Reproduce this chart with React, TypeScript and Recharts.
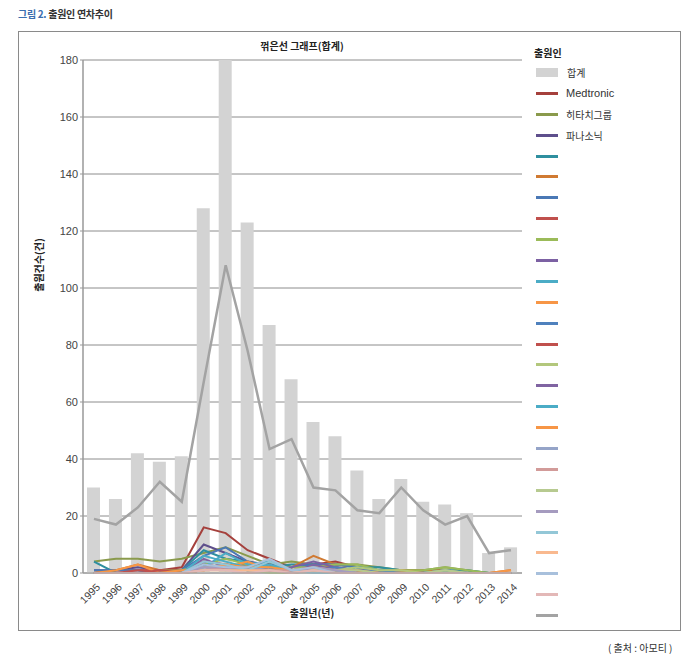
import React from 'react';
import { ComposedChart, Bar, Line, XAxis, YAxis, CartesianGrid } from 'recharts';

const years = ['1995','1996','1997','1998','1999','2000','2001','2002','2003','2004','2005','2006','2007','2008','2009','2010','2011','2012','2013','2014'];
const totals = [30,26,42,39,41,128,180,123,87,68,53,48,36,26,33,25,24,21,7,9];
const yTicks = [0,20,40,60,80,100,120,140,160,180];

const medtronic = [0,1,1,1,2,16,14,8,5,2,3,4,2,1,1,1,1,0,0,0];
const hitachi = [4,5,5,4,5,7,9,6,3,4,3,3,3,2,1,1,2,1,0,0];
const panasonic = [1,1,2,1,1,10,7,4,3,2,3,2,1,1,0,1,1,0,0,0];
const s04 = [4,0,0,1,1,8,5,4,2,3,3,3,2,2,1,1,1,1,0,0];
const s05 = [0,1,3,1,1,3,2,3,2,2,6,3,2,1,1,1,1,0,0,1];
const s06 = [1,1,1,0,1,6,9,4,2,2,3,3,2,1,1,0,1,0,0,0];
const s07 = [0,0,1,1,0,4,3,2,1,1,2,2,1,1,0,0,0,0,0,0];
const s08 = [0,0,0,0,1,3,5,3,2,2,2,3,3,1,1,1,2,1,0,0];
const s09 = [0,0,0,0,0,4,3,2,1,2,4,2,1,0,0,0,0,0,0,0];
const s10 = [0,0,0,0,0,2,7,3,4,1,2,1,2,1,0,0,1,0,0,0];
const s11 = [0,1,3,0,0,1,2,4,1,1,1,1,1,0,1,0,0,0,0,0];
const s12 = [0,0,0,0,0,3,2,1,2,0,1,2,1,1,0,0,0,0,0,0];
const s13 = [0,0,0,1,0,1,2,1,1,1,1,1,0,0,0,0,0,0,0,0];
const s14 = [0,0,0,0,0,2,3,1,1,1,2,1,2,1,1,0,1,0,0,0];
const s15 = [0,0,0,0,0,5,2,2,1,0,3,1,0,0,0,0,0,0,0,0];
const s16 = [0,0,0,0,0,6,4,2,3,1,1,1,0,0,0,0,0,0,0,0];
const s17 = [0,0,0,0,1,1,3,2,2,1,2,1,1,0,0,0,0,0,0,1];
const s18 = [0,0,0,0,0,2,1,2,1,0,2,1,0,0,0,0,0,0,0,0];
const s19 = [0,0,0,0,0,1,2,1,1,1,1,0,0,0,0,0,0,0,0,0];
const s20 = [0,0,0,0,0,1,1,1,0,0,1,1,1,0,0,0,1,0,0,0];
const s21 = [0,0,0,0,0,2,2,1,1,0,2,1,0,0,0,0,0,0,0,0];
const s22 = [0,0,0,0,0,4,3,1,4,1,0,0,0,0,0,0,0,0,0,0];
const s23 = [0,0,0,0,0,1,1,1,1,0,1,0,0,0,0,0,0,0,0,0];
const s24 = [0,0,0,0,0,3,2,2,5,1,2,0,0,0,0,0,0,0,0,0];
const s25 = [0,0,0,0,0,1,1,0,1,0,1,0,0,0,0,0,0,0,0,0];
const grayLine = [19,17,23,32,25,67,108,78,43.5,47,30,29,22,21,30,22,17,20,7,8];

const seriesValues = [medtronic,hitachi,panasonic,s04,s05,s06,s07,s08,s09,s10,s11,s12,s13,s14,s15,s16,s17,s18,s19,s20,s21,s22,s23,s24,s25,grayLine];
const seriesNames = ['Medtronic','히타치그룹','파나소닉','','','','','','','','','','','','','','','','','','','','','','',''];
const seriesColors = [
  '#a5403c','#8a9a4c','#5e4f8c','#2f8f9f','#d07a32','#4a78b5','#c0504d','#9bbb59',
  '#7c61a3','#4bacc6','#f79646','#4f81bd','#c0504d','#b3c77c','#8064a2','#4bacc6',
  '#f79646','#95a4c8','#d29b99','#b7ca90','#a59bbf','#93c7d7','#f9b98f','#a8c0dc',
  '#e3b8b7','#a3a3a3'
];
const totalName = '합계';
const totalColor = '#d3d3d3';

const data = years.map((y, i) => {
  const row: Record<string, number | string> = { year: y, total: totals[i] };
  seriesValues.forEach((arr, k) => { row['s' + k] = arr[i]; });
  return row;
});

const FONT = '"Liberation Sans", Arial, "Noto Sans CJK KR", sans-serif';
const KFONT = '"Noto Sans CJK KR", "Liberation Sans", sans-serif';

const XTick = (props: any) => {
  const { x, y, payload } = props;
  return (
    <text x={x + 4} y={y + 4} transform={`rotate(-45 ${x + 4} ${y + 4})`} textAnchor="end" dominantBaseline="central" fontSize={10.5} fill="#444" fontFamily={FONT}>
      {payload.value}
    </text>
  );
};

export default function App() {
  return (
    <div style={{ position: 'absolute', left: 0, top: 0, width: 700, height: 662, background: '#fff', fontFamily: KFONT }}>
      <div style={{ position: 'absolute', left: 18, top: 6, fontSize: 10, fontWeight: 700, color: '#333', letterSpacing: -0.3 }}>
        <span style={{ color: '#3a6eaf' }}>그림 2.</span> 출원인 연차추이
      </div>
      <div style={{ position: 'absolute', left: 18, top: 31, width: 663, height: 600, border: '1.5px solid #8a8a8a', boxSizing: 'border-box' }} />
      <div style={{ position: 'absolute', left: 608, top: 640, fontSize: 10, color: '#333' }}>( 출처 : 아모티 )</div>

      <div style={{ position: 'absolute', left: 0, top: 0 }}>
        <ComposedChart width={700} height={662} data={data} margin={{ top: 60, right: 178, bottom: 59, left: 43 }} barCategoryGap={0}>
          <CartesianGrid vertical={false} stroke="#8c8c8c" strokeWidth={1} />
          <XAxis dataKey="year" height={30} tick={<XTick />} tickLine={false} axisLine={{ stroke: '#999' }} interval={0} />
          <YAxis width={40} domain={[0, 180]} ticks={yTicks} tickSize={3} tickLine={{ stroke: '#999' }} axisLine={{ stroke: '#999', strokeWidth: 1.5 }} tick={{ fontSize: 11, fill: '#444', fontFamily: FONT }} interval={0} />
          <Bar dataKey="total" fill={totalColor} barSize={13} isAnimationActive={false} />
          {seriesValues.map((_, k) => (
            <Line key={k} dataKey={'s' + k} name={seriesNames[k] || 's' + k} type="linear" stroke={seriesColors[k]} strokeWidth={k === seriesValues.length - 1 ? 2.5 : 2} dot={false} activeDot={false} isAnimationActive={false} />
          ))}
        </ComposedChart>
      </div>

      <div style={{ position: 'absolute', left: 0, top: 38, width: 604, textAlign: 'center', fontSize: 10, fontWeight: 700, color: '#222' }}>꺾은선 그래프(합계)</div>
      <div style={{ position: 'absolute', left: 38, top: 265, transform: 'translate(-50%, -50%) rotate(-90deg)', fontSize: 10, fontWeight: 700, color: '#222', whiteSpace: 'nowrap' }}>출원건수(건)</div>
      <div style={{ position: 'absolute', left: 312, top: 612, transform: 'translate(-50%, -50%)', fontSize: 10, fontWeight: 700, color: '#222', whiteSpace: 'nowrap' }}>출원년(년)</div>

      <div style={{ position: 'absolute', left: 534, top: 45, fontSize: 10, fontWeight: 700, color: '#222' }}>출원인</div>
      <div style={{ position: 'absolute', left: 536, top: 62 }}>
        <div style={{ height: 20.9, display: 'flex', alignItems: 'center' }}>
          <div style={{ width: 22, height: 9, background: totalColor }} />
          <span style={{ marginLeft: 9, fontSize: 10, color: '#333' }}>{totalName}</span>
        </div>
        {seriesValues.map((_, k) => (
          <div key={k} style={{ height: 20.9, display: 'flex', alignItems: 'center' }}>
            <div style={{ width: 22, height: 3, background: seriesColors[k] }} />
            <span style={{ marginLeft: 8, fontSize: k === 0 ? 11 : 10, color: '#333', fontFamily: k === 0 ? FONT : KFONT }}>{seriesNames[k]}</span>
          </div>
        ))}
      </div>
    </div>
  );
}
